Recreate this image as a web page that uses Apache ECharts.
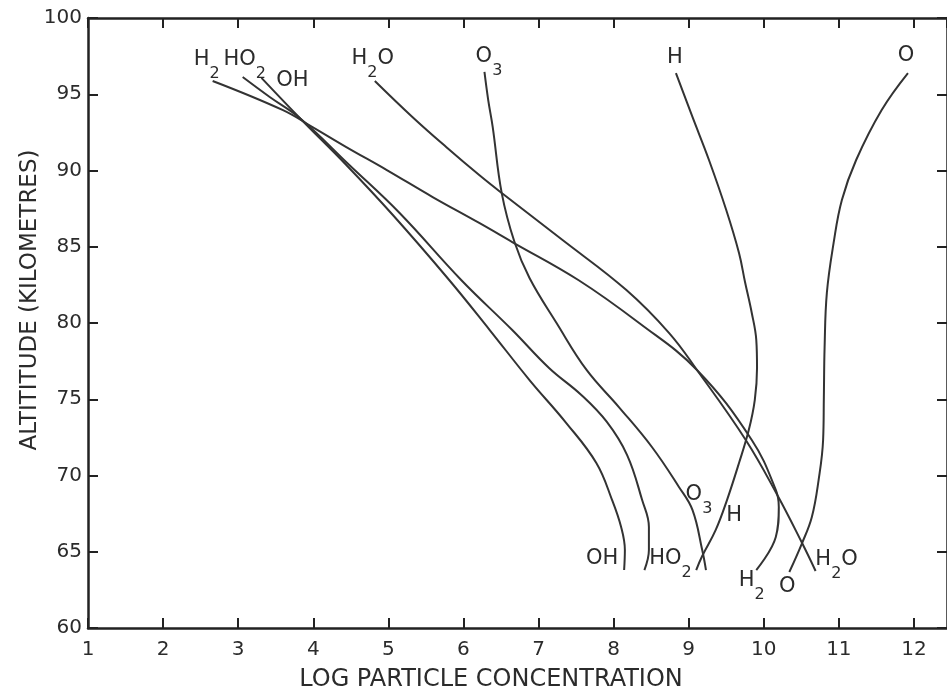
<!DOCTYPE html>
<html>
<head>
<meta charset="utf-8">
<script src="https://cdn.jsdelivr.net/npm/echarts@6/dist/echarts.min.js"></script>
<style>
  html, body { margin: 0; padding: 0; background: #fff; }
  #chart { width: 947px; height: 697px; }
</style>
</head>
<body>
<div id="chart"></div>
<script>
// ---- data (log particle concentration vs altitude, km) ----
const H2_logc  = [2.66, 3.59, 3.99, 4.44, 4.98, 5.59, 6.21, 6.65, 7.53, 8.34, 9.11, 9.84, 10.16, 10.20, 10.16, 9.90];
const H2_alt   = [95.87, 93.97, 92.85, 91.54, 90.03, 88.26, 86.56, 85.31, 82.82, 80.0, 76.92, 72.33, 69.05, 67.93, 65.97, 63.80];

const HO2_logc = [3.06, 3.42, 3.82, 4.48, 5.15, 5.97, 6.65, 7.14, 7.57, 7.91, 8.18, 8.38, 8.47, 8.47, 8.41];
const HO2_alt  = [96.13, 94.82, 93.44, 90.36, 87.21, 82.82, 79.54, 77.05, 75.28, 73.51, 71.34, 68.39, 66.62, 65.11, 63.80];

const OH_logc  = [3.31, 3.82, 4.44, 5.06, 5.81, 6.35, 6.88, 7.37, 7.77, 7.98, 8.10, 8.15, 8.14];
const OH_alt   = [96.07, 93.44, 90.36, 87.08, 82.82, 79.54, 76.26, 73.44, 70.82, 68.39, 66.62, 65.11, 63.80];

const H2O_logc = [4.82, 5.32, 5.77, 6.21, 6.51, 7.32, 8.17, 8.74, 9.11, 9.76, 10.18, 10.51, 10.69];
const H2O_alt  = [95.87, 93.51, 91.54, 89.70, 88.52, 85.44, 82.16, 79.34, 76.92, 72.33, 68.72, 65.57, 63.74];

const O3_logc  = [6.28, 6.33, 6.39, 6.51, 6.68, 6.88, 7.24, 7.64, 8.07, 8.51, 8.87, 9.05, 9.18, 9.23];
const O3_alt   = [96.46, 94.62, 92.85, 88.52, 85.31, 82.95, 80.0, 76.92, 74.49, 71.87, 69.25, 67.74, 65.11, 63.80];

const H_logc   = [8.83, 9.05, 9.27, 9.50, 9.67, 9.75, 9.84, 9.90, 9.91, 9.88, 9.80, 9.67, 9.51, 9.36, 9.18, 9.10];
const H_alt    = [96.39, 93.51, 90.69, 87.41, 84.59, 82.69, 80.66, 78.89, 77.05, 74.95, 72.98, 70.82, 68.39, 66.43, 64.72, 63.80];

const O_logc   = [11.92, 11.57, 11.23, 11.04, 10.93, 10.84, 10.81, 10.80, 10.79, 10.73, 10.64, 10.51, 10.34];
const O_alt    = [96.39, 93.97, 90.69, 88.07, 85.25, 81.97, 78.43, 75.15, 72.33, 69.70, 67.28, 65.57, 63.67];

const xTicks = [1, 2, 3, 4, 5, 6, 7, 8, 9, 10, 11, 12];
const yTicks = [60, 65, 70, 75, 80, 85, 90, 95, 100];
const xTitle = 'LOG PARTICLE CONCENTRATION';
const yTitle = 'ALTITITUDE (KILOMETRES)';

// ---- styling / label placement ----
const FONT = 'DejaVu Sans';
const INK = '#2b2b2b';
const rich = {
  m: { fontFamily: FONT, fontSize: 21, lineHeight: 21, color: INK, padding: [0, 0, 12, 0] },
  s: { fontFamily: FONT, fontSize: 16, lineHeight: 16, color: INK, padding: [17, 0, 0, 0] }
};
// [name, x, y, label text (rich), start label offset, end label offset]
const species = [
  ['H2',  H2_logc,  H2_alt,  '{m|H}{s|2}',        [-6, -15.5], [-4.5, 16.5]],
  ['HO2', HO2_logc, HO2_alt, '{m|HO}{s|2}',       [2, -11.5],  [26, -5.5]],
  ['OH',  OH_logc,  OH_alt,  '{m|OH}',            [31, 9],     [-22, -6]],
  ['H2O', H2O_logc, H2O_alt, '{m|H}{s|2}{m|O}',   [-2, -16.5], [21, -5.5]],
  ['O3',  O3_logc,  O3_alt,  '{m|O}{s|3}',        [4.5, -9.5], [-7, -69.5]],
  ['H',   H_logc,   H_alt,   '{m|H}',             [-1, -10],   [38, -49]],
  ['O',   O_logc,   O_alt,   '{m|O}',             [-2, -12],   [-2, 21]]
];

function mkLabel(text, off) {
  return {
    show: true, position: 'inside', offset: off,
    align: 'center', verticalAlign: 'middle',
    formatter: text, rich: rich
  };
}

const series = species.map(function (sp) {
  const xs = sp[1], ys = sp[2];
  const data = xs.map(function (x, i) {
    const d = { value: [x, ys[i]] };
    if (i === 0) d.label = mkLabel(sp[3], sp[4]);
    if (i === xs.length - 1) d.label = mkLabel(sp[3], sp[5]);
    return d;
  });
  return {
    name: sp[0], type: 'line', data: data,
    smooth: 0.4,
    showSymbol: true, symbol: 'circle', symbolSize: 0,
    lineStyle: { color: '#333', width: 2 },
    itemStyle: { color: '#333' },
    label: { show: false },
    emphasis: { disabled: true },
    clip: false, silent: true, animation: false, z: 3
  };
});

const axisLine = { show: true, lineStyle: { color: '#222', width: 2.5 } };
const tickStyle = { color: '#222', width: 2 };
const labelStyle = { fontFamily: FONT, fontSize: 20, color: INK };

const option = {
  animation: false,
  backgroundColor: '#fff',
  grid: { left: 88, top: 18, width: 860, height: 610, containLabel: false },
  xAxis: [
    {
      type: 'value', position: 'bottom', min: xTicks[0], max: 12.44, interval: 1,
      axisLine: axisLine,
      axisTick: { show: true, inside: true, length: 10, lineStyle: tickStyle },
      axisLabel: { show: true, margin: 12, showMaxLabel: false, ...labelStyle,
        formatter: function (v) { return xTicks.indexOf(v) >= 0 ? String(v) : ''; } },
      splitLine: { show: false }
    },
    {
      type: 'value', position: 'top', min: xTicks[0], max: 12.44, interval: 1,
      axisLine: axisLine,
      axisTick: { show: true, inside: true, length: 10, lineStyle: tickStyle },
      axisLabel: { show: false },
      splitLine: { show: false }
    }
  ],
  yAxis: [
    {
      type: 'value', position: 'left', min: yTicks[0], max: yTicks[yTicks.length - 1], interval: 5,
      axisLine: axisLine,
      axisTick: { show: true, inside: true, length: 10, lineStyle: tickStyle },
      axisLabel: { show: true, margin: 6, ...labelStyle },
      splitLine: { show: false }
    },
    {
      type: 'value', position: 'right', min: yTicks[0], max: yTicks[yTicks.length - 1], interval: 5,
      axisLine: axisLine,
      axisTick: { show: true, inside: true, length: 10, lineStyle: tickStyle },
      axisLabel: { show: false },
      splitLine: { show: false }
    }
  ],
  graphic: [
    {
      type: 'text', x: 491, y: 680,
      style: { text: xTitle, fontFamily: FONT, fontSize: 24, fill: INK,
               align: 'center', verticalAlign: 'middle' }
    },
    {
      type: 'text', x: 30, y: 300, rotation: Math.PI / 2,
      style: { text: yTitle, fontFamily: FONT, fontSize: 23, fill: INK,
               align: 'center', verticalAlign: 'middle' }
    }
  ],
  series: series
};

const chart = echarts.init(document.getElementById('chart'), null, { renderer: 'canvas' });
chart.setOption(option);
</script>
</body>
</html>
